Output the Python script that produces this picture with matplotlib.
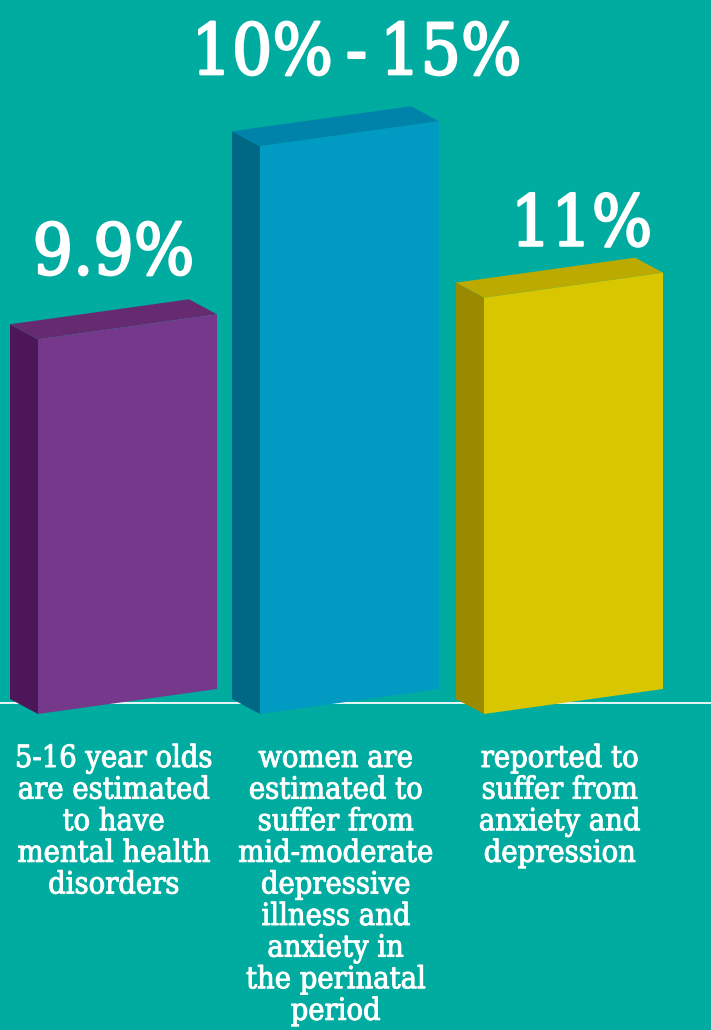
import matplotlib
matplotlib.use("Agg")
import matplotlib.pyplot as plt
from matplotlib.patches import Polygon
from matplotlib.transforms import Affine2D
import matplotlib.patheffects as pe

# ---- data ----
categories = [
    "5-16 year olds\nare estimated\nto have\nmental health\ndisorders",
    "women are\nestimated to\nsuffer from\nmid-moderate\ndepressive\nillness and\nanxiety in\nthe perinatal\nperiod",
    "reported to\nsuffer from\nanxiety and\ndepression",
]
values = [9.9, 15.0, 11.0]
value_labels = ["9.9%", "10%\u2009-\u200915%", "11%"]

# ---- style / layout ----
BG = "#00AB9F"
front_colors = ["#76388B", "#009AC2", "#D8C600"]
top_colors = ["#652A70", "#0083AA", "#BCAA00"]
side_colors = ["#4C1658", "#006884", "#998A00"]

W, H = 711, 1030
BASE = 714.0          # pixel row of value 0 (front-left bottom)
PX_PER_PCT = 37.85
bar_left = [38, 260, 484]
bar_w = 179
slant_px = 25
depth_dx = -28
depth_dy_px = 15

fig = plt.figure(figsize=(W / 100, H / 100), dpi=100, facecolor=BG)
ax = fig.add_axes([0, 0, 1, 1])
ax.set_facecolor(BG)
ax.set_xlim(0, W)
ax.set_ylim(-(H - BASE) / PX_PER_PCT, BASE / PX_PER_PCT)
ax.axis("off")

slant = slant_px / PX_PER_PCT
depth_dy = depth_dy_px / PX_PER_PCT
k = slant / bar_w

ax.axhline((BASE - 703) / PX_PER_PCT, color="white", lw=1.4, zorder=1, alpha=0.9)

bars = ax.bar(bar_left, values, width=bar_w, align="edge", color=front_colors,
              linewidth=0, zorder=3)
for x0, patch, v, tc, sc in zip(bar_left, bars, values, top_colors, side_colors):
    skew = Affine2D().translate(-x0, 0) + Affine2D([[1, 0, 0], [k, 1, 0], [0, 0, 1]]) \
        + Affine2D().translate(x0, 0)
    patch.set_transform(skew + ax.transData)
    side = Polygon([(x0, 0), (x0, v), (x0 + depth_dx, v + depth_dy), (x0 + depth_dx, depth_dy)],
                   closed=True, facecolor=sc, edgecolor="none", zorder=2)
    ax.add_patch(side)
    top = Polygon([(x0, v), (x0 + bar_w, v + slant), (x0 + bar_w + depth_dx, v + slant + depth_dy),
                   (x0 + depth_dx, v + depth_dy)],
                  closed=True, facecolor=tc, edgecolor="none", zorder=2)
    ax.add_patch(top)

font = "DejaVu Serif"
stretch = "condensed"

# value labels (pixel offsets from bar top)
label_dx = [0, 21, 22]
label_dy = [40, 47, 27]
for x0, v, lab, dx, dy in zip(bar_left, values, value_labels, label_dx, label_dy):
    cx = x0 + (bar_w + depth_dx) / 2
    ax.annotate(lab, xy=(cx, v + slant), xytext=(dx * 0.72, dy * 0.72),
                textcoords="offset points", ha="center", va="baseline",
                color="white", fontsize=51, family=font, fontstretch=stretch, zorder=5,
                path_effects=[pe.withStroke(linewidth=1.6, foreground="white")])

# category labels
for x0, cat in zip(bar_left, categories):
    cx = x0 + (bar_w + depth_dx) / 2
    ax.text(cx, (BASE - 743) / PX_PER_PCT, cat, ha="center", va="top", color="white",
            fontsize=22, family=font, fontstretch=stretch, linespacing=1.025, zorder=5,
            path_effects=[pe.withStroke(linewidth=0.7, foreground="white")])

fig.savefig("out.png", dpi=100, facecolor=BG)
